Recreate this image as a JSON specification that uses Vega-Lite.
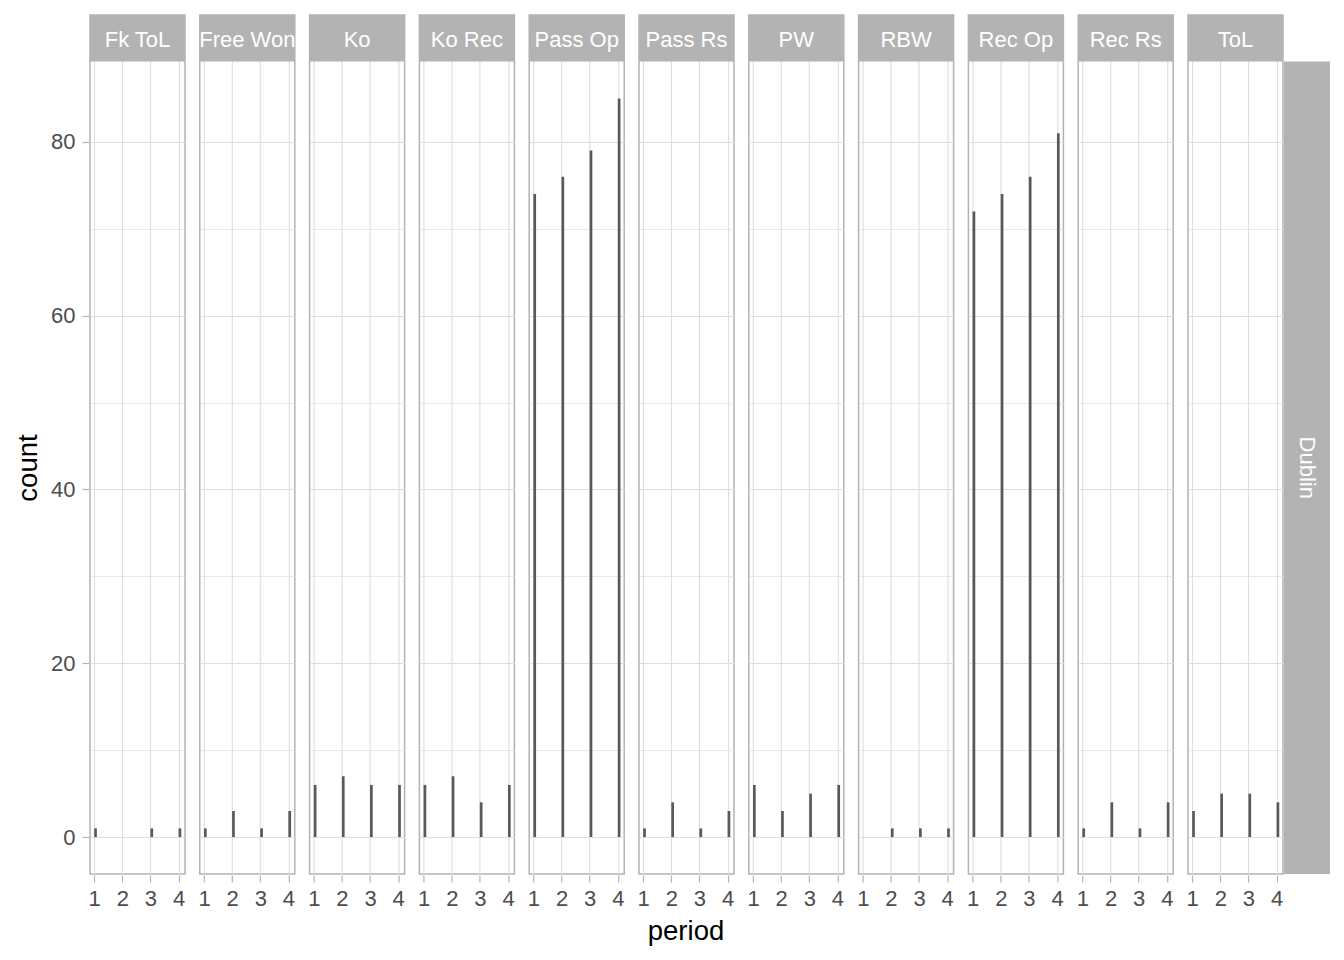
{
  "$schema": "https://vega.github.io/schema/vega-lite/v6.json",
  "background": "white",
  "padding": {"left": 14, "top": 14, "right": 0, "bottom": 0},
  "config": {"font": "Liberation Sans"},
  "datasets": {
    "counts": [
      {"team": "Dublin", "type": "Fk ToL", "period": 1, "count": 1},
      {"team": "Dublin", "type": "Fk ToL", "period": 3, "count": 1},
      {"team": "Dublin", "type": "Fk ToL", "period": 4, "count": 1},
      {"team": "Dublin", "type": "Free Won", "period": 1, "count": 1},
      {"team": "Dublin", "type": "Free Won", "period": 2, "count": 3},
      {"team": "Dublin", "type": "Free Won", "period": 3, "count": 1},
      {"team": "Dublin", "type": "Free Won", "period": 4, "count": 3},
      {"team": "Dublin", "type": "Ko", "period": 1, "count": 6},
      {"team": "Dublin", "type": "Ko", "period": 2, "count": 7},
      {"team": "Dublin", "type": "Ko", "period": 3, "count": 6},
      {"team": "Dublin", "type": "Ko", "period": 4, "count": 6},
      {"team": "Dublin", "type": "Ko Rec", "period": 1, "count": 6},
      {"team": "Dublin", "type": "Ko Rec", "period": 2, "count": 7},
      {"team": "Dublin", "type": "Ko Rec", "period": 3, "count": 4},
      {"team": "Dublin", "type": "Ko Rec", "period": 4, "count": 6},
      {"team": "Dublin", "type": "Pass Op", "period": 1, "count": 74},
      {"team": "Dublin", "type": "Pass Op", "period": 2, "count": 76},
      {"team": "Dublin", "type": "Pass Op", "period": 3, "count": 79},
      {"team": "Dublin", "type": "Pass Op", "period": 4, "count": 85},
      {"team": "Dublin", "type": "Pass Rs", "period": 1, "count": 1},
      {"team": "Dublin", "type": "Pass Rs", "period": 2, "count": 4},
      {"team": "Dublin", "type": "Pass Rs", "period": 3, "count": 1},
      {"team": "Dublin", "type": "Pass Rs", "period": 4, "count": 3},
      {"team": "Dublin", "type": "PW", "period": 1, "count": 6},
      {"team": "Dublin", "type": "PW", "period": 2, "count": 3},
      {"team": "Dublin", "type": "PW", "period": 3, "count": 5},
      {"team": "Dublin", "type": "PW", "period": 4, "count": 6},
      {"team": "Dublin", "type": "RBW", "period": 2, "count": 1},
      {"team": "Dublin", "type": "RBW", "period": 3, "count": 1},
      {"team": "Dublin", "type": "RBW", "period": 4, "count": 1},
      {"team": "Dublin", "type": "Rec Op", "period": 1, "count": 72},
      {"team": "Dublin", "type": "Rec Op", "period": 2, "count": 74},
      {"team": "Dublin", "type": "Rec Op", "period": 3, "count": 76},
      {"team": "Dublin", "type": "Rec Op", "period": 4, "count": 81},
      {"team": "Dublin", "type": "Rec Rs", "period": 1, "count": 1},
      {"team": "Dublin", "type": "Rec Rs", "period": 2, "count": 4},
      {"team": "Dublin", "type": "Rec Rs", "period": 3, "count": 1},
      {"team": "Dublin", "type": "Rec Rs", "period": 4, "count": 4},
      {"team": "Dublin", "type": "ToL", "period": 1, "count": 3},
      {"team": "Dublin", "type": "ToL", "period": 2, "count": 5},
      {"team": "Dublin", "type": "ToL", "period": 3, "count": 5},
      {"team": "Dublin", "type": "ToL", "period": 4, "count": 4}
    ],
    "teams": [{"team": "Dublin"}]
  },
  "spacing": 0,
  "resolve": {"scale": {"y": "independent"}},
  "hconcat": [
    {
      "data": {"name": "counts"},
      "spacing": {"column": 12.8},
      "facet": {
        "column": {
          "field": "type",
          "type": "nominal",
          "sort": ["Fk ToL", "Free Won", "Ko", "Ko Rec", "Pass Op", "Pass Rs", "PW", "RBW", "Rec Op", "Rec Rs", "ToL"],
          "header": {
            "labels": false,
            "title": "period",
            "titleOrient": "bottom",
            "titleFontSize": 27.5,
            "titleColor": "#000000",
            "titleFontWeight": "normal",
            "titlePadding": -1
          }
        }
      },
      "spec": {
        "width": 95,
        "height": 859,
        "view": {"stroke": "#B3B3B3", "strokeWidth": 1.5, "fill": "white"},
        "layer": [
          {
            "mark": {"type": "bar", "color": "#595959", "size": 2.7, "xOffset": 1.3},
            "encoding": {
              "x": {
                "field": "period",
                "type": "quantitative",
                "scale": {"domain": [0.85, 4.227], "nice": false, "zero": false, "padding": 0},
                "axis": {
                  "title": null,
                  "values": [1, 1.5, 2, 2.5, 3, 3.5, 4],
                  "format": "d",
                  "labelExpr": "datum.value % 1 == 0 ? datum.label : ''",
                  "labelFontSize": 22,
                  "labelColor": "#4D4D4D",
                  "labelPadding": 6,
                  "tickColor": "#B3B3B3",
                  "tickSize": 7,
                  "tickWidth": 1.2,
                  "tickOpacity": {"condition": {"test": "datum.value % 1 != 0", "value": 0}, "value": 1},
                  "domain": false,
                  "grid": true,
                  "gridColor": "#DEDEDE",
                  "gridWidth": {"condition": {"test": "datum.value % 1 != 0", "value": 0.7}, "value": 1.1}
                }
              },
              "y": {
                "field": "count",
                "type": "quantitative",
                "scale": {"domain": [-4.25, 94.6], "nice": false, "zero": false, "padding": 0},
                "axis": {
                  "title": "count",
                  "titleFontSize": 27.5,
                  "titleColor": "#000000",
                  "titleFontWeight": "normal",
                  "titlePadding": 8,
                  "titleY": 452.5,
                  "values": [0, 10, 20, 30, 40, 50, 60, 70, 80],
                  "format": "d",
                  "labelExpr": "datum.value % 20 == 0 ? datum.label : ''",
                  "labelFontSize": 22,
                  "labelColor": "#4D4D4D",
                  "labelPadding": 7,
                  "tickColor": "#B3B3B3",
                  "tickSize": 7,
                  "tickWidth": 1.2,
                  "tickOpacity": {"condition": {"test": "datum.value % 20 != 0", "value": 0}, "value": 1},
                  "domain": false,
                  "grid": true,
                  "gridColor": "#DEDEDE",
                  "gridWidth": {"condition": {"test": "datum.value % 20 != 0", "value": 0.7}, "value": 1.1}
                }
              },
              "y2": {"datum": 0}
            }
          },
          {
            "transform": [{"aggregate": [{"op": "count", "as": "n"}], "groupby": ["type"]}],
            "mark": {"type": "rect", "color": "#B3B3B3"},
            "encoding": {
              "y": {"datum": 89.25, "type": "quantitative"},
              "y2": {"datum": 94.6}
            }
          },
          {
            "transform": [{"aggregate": [{"op": "count", "as": "n"}], "groupby": ["type"]}],
            "mark": {"type": "text", "color": "#FFFFFF", "fontSize": 22, "clip": true},
            "encoding": {
              "y": {"datum": 91.7, "type": "quantitative"},
              "text": {"field": "type", "type": "nominal"}
            }
          }
        ]
      }
    },
    {
      "data": {"name": "teams"},
      "width": 46,
      "height": 859,
      "view": {"stroke": null},
      "layer": [
        {
          "mark": {"type": "rect", "color": "#B3B3B3"},
          "encoding": {
            "y": {"datum": -4.25, "type": "quantitative", "scale": {"domain": [-4.25, 94.6], "nice": false, "zero": false}, "axis": null},
            "y2": {"datum": 89.25}
          }
        },
        {
          "mark": {"type": "text", "color": "#FFFFFF", "fontSize": 22, "angle": 90},
          "encoding": {
            "y": {"datum": 42.5, "type": "quantitative"},
            "text": {"field": "team", "type": "nominal"}
          }
        }
      ]
    }
  ]
}
